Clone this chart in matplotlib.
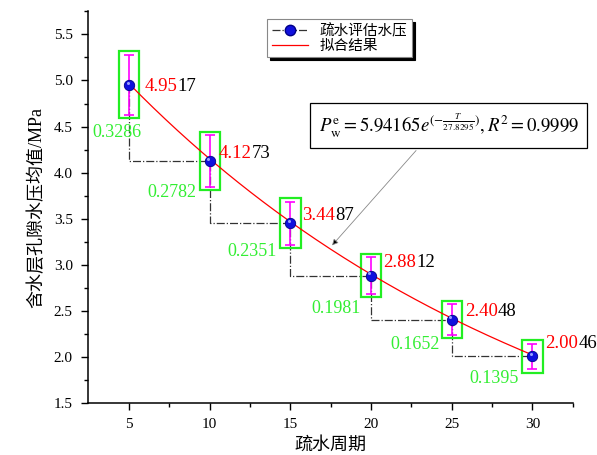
import numpy as np
import matplotlib
matplotlib.use("Agg")
import matplotlib.pyplot as plt
from matplotlib.lines import Line2D
from matplotlib.patches import Rectangle

plt.rcParams['font.family'] = ['Liberation Serif', 'Noto Sans CJK SC']
plt.rcParams['mathtext.fontset'] = 'stix'

# data
periods = [5, 10, 15, 20, 25, 30]
pressure = [4.9517, 4.1273, 3.4487, 2.8812, 2.4048, 2.0046]
spread = [0.3286, 0.2782, 0.2351, 0.1981, 0.1652, 0.1395]
fit_a = 5.94165
fit_t0 = 27.8295

# label placement (data coords)
val_pos = [(5.93, 4.93), (10.56, 4.21), (15.75, 3.54),
           (20.75, 3.02), (25.8, 2.49), (30.8, 2.15)]
std_pos = [(4.26, 4.44), (7.67, 3.78), (12.63, 3.14),
           (17.83, 2.53), (22.73, 2.13), (27.63, 1.77)]

fig = plt.figure(figsize=(5.97, 4.55), dpi=100)
ax = fig.add_axes([0.1474, 0.1143, 0.8119, 0.8607])

# step dash-dot line
ax.plot(periods, pressure, ls='-.', drawstyle='steps-pre', color='#333333',
        lw=0.9, zorder=2)

# green boxes
for x, y, s in zip(periods, pressure, spread):
    ax.add_patch(Rectangle((x - 0.63, y - s - 0.035), 1.26, 2 * s + 0.075,
                           fill=False, ec='#22ee22', lw=1.6, zorder=3))

ax.errorbar(periods, pressure, yerr=spread, fmt='none', ecolor='#ff00ff',
            elinewidth=1.2, capsize=3.5, capthick=1.2, zorder=4)

# fit curve
tt = np.linspace(periods[0], periods[-1], 200)
ax.plot(tt, fit_a * np.exp(-tt / fit_t0), color='red', lw=0.9, zorder=5)

ax.plot(periods, pressure, 'o', ms=7.5, mfc='#1010dd', mec='#000088',
        mew=0.6, zorder=6)
ax.plot(np.array(periods) - 0.1, np.array(pressure) + 0.025, 'o', ms=2.2,
        mfc='#9aa0ff', mec='none', zorder=7)

# value labels: first 4 chars red, rest black
for (lx, ly), v in zip(val_pos, pressure):
    s = f"{v:.4f}"
    t = ax.text(lx, ly, s[:4], color='red', fontsize=13.5, va='center',
                ha='left', zorder=8)
    ax.annotate(s[4:], xy=(1, 0), xycoords=t, va='bottom', ha='left',
                fontsize=13.5, color='black', zorder=8)

for (lx, ly), s in zip(std_pos, spread):
    ax.text(lx, ly, f"{s:.4f}", color='#33ee33', fontsize=13,
            ha='center', va='center', zorder=8)

# formula box
ax.text(24.81, 4.51,
        r'$P_{\rm w}^{\rm e} = 5.94165e^{(-\frac{T}{27.8295})}, R^2 = 0.9999$',
        fontsize=13.5, ha='center', va='center', zorder=9, clip_on=False,
        bbox=dict(boxstyle='square,pad=0.45', fc='white', ec='black', lw=0.9))
ax.annotate('', xy=(17.58, 3.21), xytext=(22.79, 4.24),
            arrowprops=dict(arrowstyle='-|>', ec='#888888', fc='black',
                            lw=0.6, mutation_scale=9, shrinkA=0, shrinkB=0),
            zorder=9)

# legend
handles = [
    Line2D([], [], ls='-.', color='#333333', lw=0.9, marker='o', ms=7.5,
           mfc='#1010dd', mec='#000088'),
    Line2D([], [], color='red', lw=0.9),
]
leg = ax.legend(handles, ['疏水评估水压', '拟合结果'], loc='upper left',
                bbox_to_anchor=(0.37, 0.98), borderaxespad=0, fontsize=10.5,
                frameon=True, fancybox=False, edgecolor='#888888',
                framealpha=1, handlelength=2.5, labelspacing=0.1,
                borderpad=0.3, handletextpad=0.8,
                shadow={'color': 'black', 'alpha': 1})
leg.get_frame().set_linewidth(0.8)
leg.set_zorder(10)

ax.set_xlim(2.45, 32.5)
ax.set_ylim(1.5, 5.75)
ax.set_xticks(periods)
ax.set_xticks([7.5, 12.5, 17.5, 22.5, 27.5, 32.5], minor=True)
ax.set_yticks(np.arange(1.5, 5.51, 0.5))
ax.set_yticks(np.arange(1.75, 5.76, 0.5), minor=True)
ax.spines['top'].set_visible(False)
ax.spines['right'].set_visible(False)
for sp in ('left', 'bottom'):
    ax.spines[sp].set_linewidth(1.1)
ax.tick_params(which='major', direction='out', length=5, width=1.0,
               labelsize=11, pad=6)
ax.tick_params(which='minor', direction='out', length=3, width=1.0)

ax.set_xlabel('疏水周期', fontsize=13, labelpad=4)
ax.set_ylabel('含水层孔隙水压均值/MPa', fontsize=13, labelpad=6)

fig.savefig('out.png', dpi=100, facecolor='white')
